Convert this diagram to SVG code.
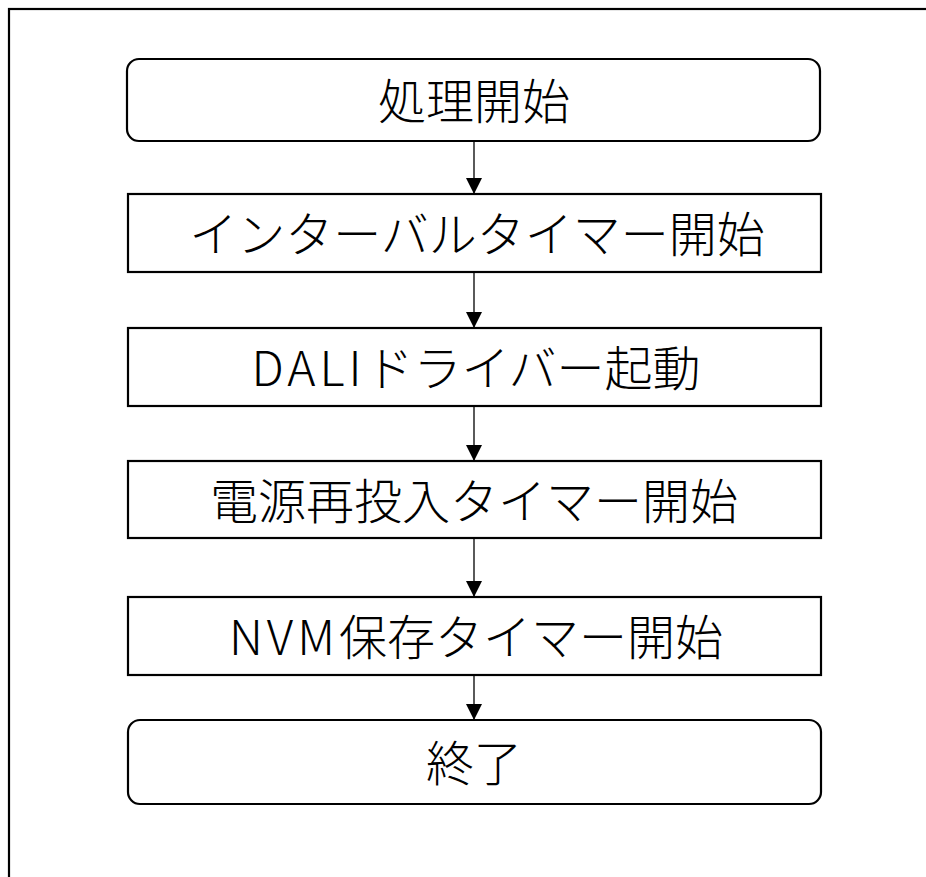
<svg xmlns="http://www.w3.org/2000/svg" width="926" height="877" viewBox="0 0 926 877">
<defs>
<style>
.box{fill:#fff;stroke:#000;stroke-width:2.2}
.lbl{font-family:"Noto Sans CJK JP","Noto Sans",sans-serif;font-size:48px;font-weight:300;fill:#000;text-anchor:middle;dominant-baseline:central}
.lat{letter-spacing:4px}
.conn{stroke:#000;stroke-width:1.3;fill:none}
</style>
<marker id="ah" markerWidth="16" markerHeight="16" viewBox="0 0 16 16" refX="16" refY="8" orient="auto" markerUnits="userSpaceOnUse">
<path d="M0,0 L16,8 L0,16 Z" fill="#000"/>
</marker>
</defs>
<rect x="0" y="0" width="926" height="877" fill="#fff"/>
<rect id="frame" x="9" y="9" width="930" height="880" fill="none" stroke="#000" stroke-width="2.2"/>
<g id="n1"><rect class="box" x="127" y="59" width="693" height="82" rx="12"/><text class="lbl" x="474" y="98">処理開始</text></g>
<g id="n2"><rect class="box" x="128" y="194" width="693" height="78"/><text class="lbl" x="477" y="231">インターバルタイマー開始</text></g>
<g id="n3"><rect class="box" x="128" y="328" width="693" height="78"/><text class="lbl" x="476" y="365"><tspan class="lat">DALI</tspan>ドライバー起動</text></g>
<g id="n4"><rect class="box" x="128" y="461" width="693" height="77"/><text class="lbl" x="474" y="498">電源再投入タイマー開始</text></g>
<g id="n5"><rect class="box" x="128" y="597" width="693" height="78"/><text class="lbl" x="476" y="634"><tspan class="lat">NVM</tspan>保存タイマー開始</text></g>
<g id="n6"><rect class="box" x="128" y="720" width="693" height="84" rx="12"/><text class="lbl" x="474" y="760">終了</text></g>
<g id="connectors">
<line class="conn" x1="474" y1="142" x2="474" y2="194" marker-end="url(#ah)"/>
<line class="conn" x1="474" y1="273" x2="474" y2="328" marker-end="url(#ah)"/>
<line class="conn" x1="474" y1="407" x2="474" y2="461" marker-end="url(#ah)"/>
<line class="conn" x1="474" y1="539" x2="474" y2="597" marker-end="url(#ah)"/>
<line class="conn" x1="474" y1="676" x2="474" y2="720" marker-end="url(#ah)"/>
</g>
</svg>
